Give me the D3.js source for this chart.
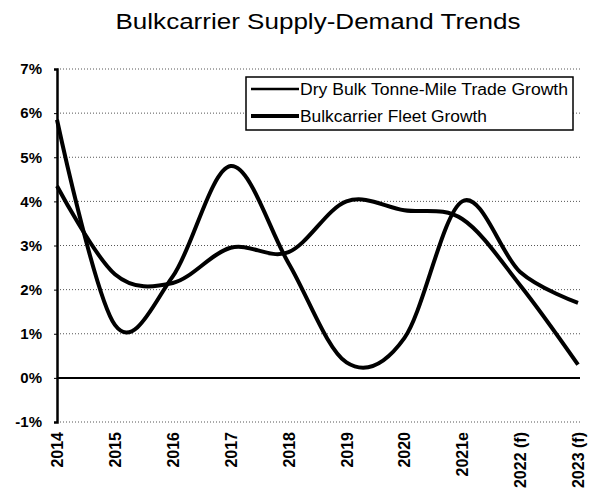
<!DOCTYPE html>
<html>
<head>
<meta charset="utf-8">
<script src="https://cdn.jsdelivr.net/npm/d3@7"></script>
<style>
  html, body { margin: 0; padding: 0; background: #fff; }
  svg { display: block; }
  text { font-family: "Liberation Sans", Arial, sans-serif; fill: #000; }
</style>
</head>
<body>
<svg id="chart" width="597" height="493"></svg>
<script>
// Years on the category axis
const categories = ["2014", "2015", "2016", "2017", "2018", "2019", "2020", "2021e", "2022 (f)", "2023 (f)"];
// Annual growth, percent
const tradeGrowth = [5.85, 1.2, 2.3, 4.8, 2.6, 0.35, 0.9, 4.0, 2.4, 1.7];
const fleetGrowth = [4.35, 2.35, 2.15, 2.95, 2.85, 4.0, 3.8, 3.6, 2.1, 0.3];
const yTicks = [-1, 0, 1, 2, 3, 4, 5, 6, 7];
const seriesNames = ["Dry Bulk Tonne-Mile Trade Growth", "Bulkcarrier Fleet Growth"];
const titleText = "Bulkcarrier Supply-Demand Trends";

const svg = d3.select("#chart");
const plot = { left: 57, right: 578, top: 69, bottom: 422 };

const x = d3.scalePoint().domain(categories).range([plot.left, plot.right]);
const y = d3.scaleLinear().domain([-1, 7]).range([plot.bottom, plot.top]);

// Title
svg.append("text")
  .attr("x", 318).attr("y", 29)
  .attr("text-anchor", "middle")
  .attr("font-size", 22)
  .attr("textLength", 405)
  .attr("lengthAdjust", "spacingAndGlyphs")
  .text(titleText);

// Horizontal gridlines (dotted), zero line solid
svg.append("g").selectAll("line")
  .data(yTicks.filter(d => d !== 0))
  .join("line")
  .attr("x1", plot.left).attr("x2", plot.right + 2)
  .attr("y1", d => y(d)).attr("y2", d => y(d))
  .attr("stroke", "#555")
  .attr("stroke-width", 1)
  .attr("stroke-dasharray", "1,2");

svg.append("line")
  .attr("x1", plot.left).attr("x2", plot.right + 2)
  .attr("y1", y(0)).attr("y2", y(0))
  .attr("stroke", "#000").attr("stroke-width", 2);

// Y axis
const yAxis = d3.axisLeft(y).tickValues(yTicks).tickSize(3).tickFormat(d => d + "%");
const gy = svg.append("g").attr("transform", `translate(${plot.left},0)`).call(yAxis);
gy.select(".domain").attr("stroke", "#000").attr("stroke-width", 2.5);
gy.selectAll(".tick line").attr("stroke", "#000");
gy.selectAll(".tick text")
  .attr("x", -15)
  .attr("font-size", 15)
  .attr("font-weight", "bold")
  .attr("font-family", "'Liberation Sans', Arial, sans-serif")
  .attr("fill", "#000");

// X axis labels, rotated
const xAxis = d3.axisBottom(x).tickSize(0);
const gx = svg.append("g").attr("transform", `translate(0,${plot.bottom})`).call(xAxis);
gx.select(".domain").remove();
gx.selectAll(".tick text")
  .attr("transform", "rotate(-90)")
  .attr("text-anchor", "end")
  .attr("dy", "0.35em")
  .attr("x", -10)
  .attr("y", 0)
  .attr("font-size", 16)
  .attr("font-weight", "bold")
  .attr("font-family", "'Liberation Sans', Arial, sans-serif")
  .attr("fill", "#000");

// Smoothed series lines
const line = d3.line()
  .x((d, i) => x(categories[i]))
  .y(d => y(d))
  .curve(d3.curveCatmullRom.alpha(0));

svg.append("path")
  .datum(tradeGrowth)
  .attr("d", line)
  .attr("fill", "none")
  .attr("stroke", "#000")
  .attr("stroke-width", 4);

svg.append("path")
  .datum(fleetGrowth)
  .attr("d", line)
  .attr("fill", "none")
  .attr("stroke", "#000")
  .attr("stroke-width", 4);

// Legend
const legend = svg.append("g");
legend.append("rect")
  .attr("x", 246).attr("y", 77)
  .attr("width", 327).attr("height", 53)
  .attr("fill", "#fff")
  .attr("stroke", "#000")
  .attr("stroke-width", 1.5);

const legendRows = [
  { name: seriesNames[0], y: 89, w: 2.5, len: 268 },
  { name: seriesNames[1], y: 116, w: 4, len: 187 }
];
legendRows.forEach(r => {
  legend.append("line")
    .attr("x1", 251).attr("x2", 299)
    .attr("y1", r.y).attr("y2", r.y)
    .attr("stroke", "#000").attr("stroke-width", r.w);
  legend.append("text")
    .attr("x", 300).attr("y", r.y + 5.5)
    .attr("font-size", 16)
    .attr("textLength", r.len)
    .attr("lengthAdjust", "spacingAndGlyphs")
    .text(r.name);
});
</script>
</body>
</html>
